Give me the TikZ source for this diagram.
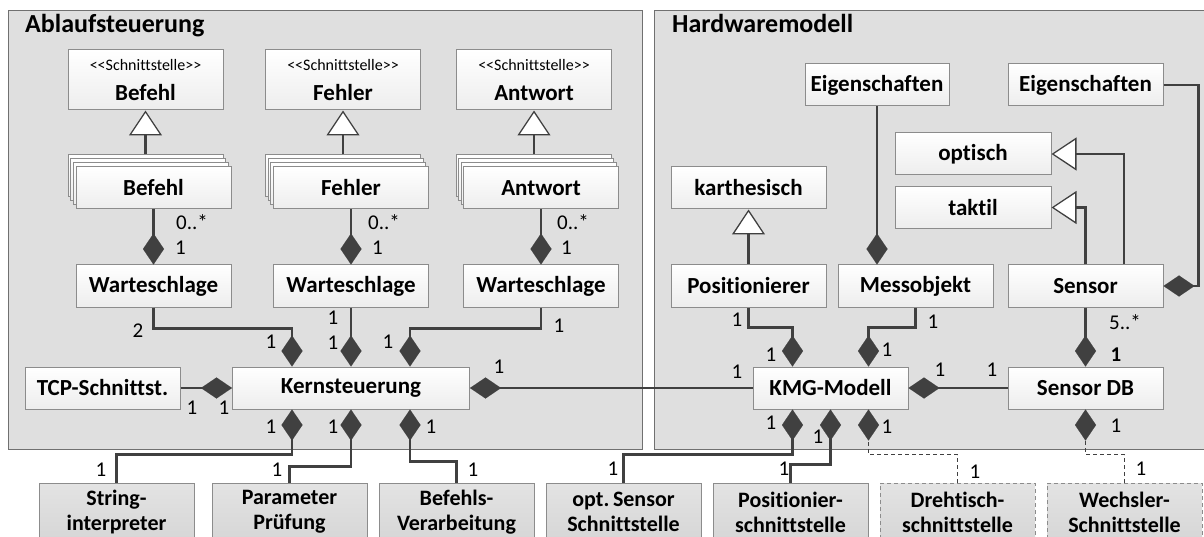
\documentclass[tikz,border=0pt]{standalone}
\usepackage{fontspec}
\setmainfont{Carlito}[Ligatures={TeX,NoCommon}]
\usetikzlibrary{arrows.meta}
\definecolor{lineC}{HTML}{404040}
\definecolor{panelC}{HTML}{DFDFDF}
\definecolor{panelB}{HTML}{707070}
\definecolor{boxB}{HTML}{8C8C8C}
% stereotype line inside interface boxes (angle brackets kept apart so they stay brackets)
\newcommand{\stereotxt}{\mdseries\fontsize{16}{30}\selectfont}
\newcommand{\ifacetag}{{\stereotxt{<}{<}Schnittstelle{>}{>}}}
\begin{document}
\begin{tikzpicture}[x=1pt,y=-1pt,
  panel/.style={draw=panelB, fill=panelC, line width=1pt},
  title/.style={anchor=base west, inner sep=0pt, font=\bfseries\fontsize{26}{30}\selectfont},
  cls/.style={draw=boxB, line width=1pt, top color=white, bottom color=gray!14,
    minimum width=155pt, minimum height=42pt, inner sep=0pt,
    font=\bfseries\fontsize{23}{27}\selectfont},
  iface/.style={cls, minimum height=60pt, align=center, font=\bfseries\fontsize{23}{30}\selectfont},
  ext/.style={draw=boxB, line width=1pt, top color=gray!22, bottom color=gray!32,
    minimum width=155pt, minimum height=58pt, inner sep=0pt, align=center,
    font=\bfseries\fontsize{22}{25}\selectfont},
  extopt/.style={ext, dash pattern=on 4pt off 3pt},
  conn/.style={draw=lineC, line width=2.6pt},
  comp/.style={conn, -{Diamond[length=31pt,width=21pt,line width=0.1pt]}},
  compopt/.style={draw=lineC, line width=1.8pt, dash pattern=on 4pt off 3pt,
    -{Diamond[length=31pt,width=21pt,line width=0.1pt]}},
  gen/.style={conn, -{Triangle[length=25pt,width=33pt,fill=white,line width=1.3pt]}},
  mult/.style={inner sep=0pt, font=\fontsize{21}{24}\selectfont},
  multw/.style={mult, anchor=west}
]
\useasboundingbox (0,0) rectangle (1204,537);

% the two packages
\draw[panel] (8.5,11) rectangle (642,449);
\draw[panel] (654,11) rectangle (1212,449);
\node[title] (tAbl) at (25,33) {Ablaufsteuerung};
\node[title] (tHw) at (672,33) {Hardwaremodell};

% ---- Ablaufsteuerung: interfaces
\node[iface] (sA) at (145.5,80) {\ifacetag\\Befehl};
\node[iface] (sB) at (343,80) {\ifacetag\\Fehler};
\node[iface] (sC) at (534,80) {\ifacetag\\Antwort};

% stacked implementations
\node[cls] (bA1) at (145.5,176) {};
\node[cls] (bA2) at (148.2,180) {};
\node[cls] (bA3) at (150.8,184) {};
\node[cls] (fA) at (153.5,188) {Befehl};
\node[cls] (bB1) at (343,176) {};
\node[cls] (bB2) at (345.7,180) {};
\node[cls] (bB3) at (348.3,184) {};
\node[cls] (fB) at (351,188) {Fehler};
\node[cls] (bC1) at (534,176) {};
\node[cls] (bC2) at (536.3,180) {};
\node[cls] (bC3) at (538.7,184) {};
\node[cls] (fC) at (541,188) {Antwort};

% queues and core
\node[cls] (wA) at (153.5,286) {Warteschlage};
\node[cls] (wB) at (351,286) {Warteschlage};
\node[cls] (wC) at (541,286) {Warteschlage};
\node[cls, minimum width=237pt] (kern) at (351,388) {Kernsteuerung};
\node[cls] (tcp) at (102.5,388) {TCP-Schnittst.};

% ---- Hardwaremodell
\node[cls, minimum width=144pt] (eig1) at (877,85) {Eigenschaften};
\node[cls] (eig2) at (1085.5,85) {Eigenschaften};
\node[cls, minimum width=156pt] (opt) at (973,154) {optisch};
\node[cls, minimum width=156pt] (tak) at (973,207.5) {taktil};
\node[cls] (kar) at (748.5,188) {karthesisch};
\node[cls] (pos) at (748.5,286) {Positionierer};
\node[cls] (mes) at (915.5,286) {Messobjekt};
\node[cls] (sen) at (1085.5,286) {Sensor};
\node[cls] (kmg) at (830.5,388) {KMG-Modell};
\node[cls] (sdb) at (1085.5,388) {Sensor DB};

% ---- external interfaces
\node[ext] (str) at (116.5,512) {String-\\interpreter};
\node[ext] (par) at (289.5,512) {Parameter\\Prüfung};
\node[ext] (bef) at (456.5,512) {Befehls-\\Verarbeitung};
\node[ext] (ops) at (623.5,512) {opt.\,Sensor\\Schnittstelle};
\node[ext] (psi) at (790.5,512) {Positionier-\\schnittstelle};
\node[extopt] (dre) at (957.5,512) {Drehtisch-\\schnittstelle};
\node[extopt] (wec) at (1124.5,512) {Wechsler-\\Schnittstelle};

% ---- generalisations
\draw[gen] (bA1.north) -- (sA.south);
\draw[gen] (bB1.north) -- (sB.south);
\draw[gen] (bC1.north) -- (sC.south);
\draw[gen] (pos) -- (kar);
\draw[gen] ([xshift=38.5pt]sen.north) |- (opt.east);
\draw[gen] (sen.north) |- (tak.east);

% ---- compositions
\draw[comp] (fA) -- (wA);
\draw[comp] (fB) -- (wB);
\draw[comp] (fC) -- (wC);
\draw[comp] (wA.south) -- ++(0,21) -| ([xshift=-59pt]kern.north);
\draw[comp] (wB) -- (kern);
\draw[comp] (wC.south) -- ++(0,21) -| ([xshift=59pt]kern.north);
\draw[comp] (tcp) -- (kern);
\draw[comp] (kmg) -- (kern);
\draw[comp] (str.north) -- ++(0,-28) -| ([xshift=-59pt]kern.south);
\draw[comp] (par.north) -- ++(0,-16) -| (kern.south);
\draw[comp] (bef.north) -- ++(0,-21) -| ([xshift=59pt]kern.south);

\draw[comp] (eig1.south) -- (eig1.south |- mes.north);
\draw[comp] (eig2.east) -- ++(35,0) |- (sen.east);
\draw[comp] (pos.south) -- ++(0,20) -| ([xshift=-38pt]kmg.north);
\draw[comp] (mes.south) -- ++(0,20) -| ([xshift=38pt]kmg.north);
\draw[comp] (sen) -- (sdb);
\draw[comp] (sdb) -- (kmg);
\draw[comp] (ops.north) -- ++(0,-28) -| ([xshift=-38pt]kmg.south);
\draw[comp] (psi.north) -- ++(0,-18) -| (kmg.south);
\draw[compopt] (dre.north) -- ++(0,-28) -| ([xshift=38pt]kmg.south);
\draw[compopt] (wec.north) -- ++(0,-28) -| (sdb.south);

% ---- multiplicities
\node[multw] (mA1) at (176,222) {0..*};
\node[multw] (mA2) at (175,248) {1};
\node[multw] (mB1) at (368,222) {0..*};
\node[multw] (mB2) at (372,248) {1};
\node[multw] (mC1) at (557,222) {0..*};
\node[multw] (mC2) at (561,248) {1};
\node[mult] (mW1) at (138,331) {2};
\node[mult] (mW2) at (333,318) {1};
\node[mult] (mW3) at (559,326) {1};
\node[mult] (mK1) at (271,342) {1};
\node[mult] (mK2) at (333,343) {1};
\node[mult] (mK3) at (388,342) {1};
\node[mult] (mT1) at (192,408) {1};
\node[mult] (mT2) at (224,408) {1};
\node[mult] (mK4) at (271,427) {1};
\node[mult] (mK5) at (333,427) {1};
\node[mult] (mK6) at (431,427) {1};
\node[mult] (mE1) at (101,470) {1};
\node[mult] (mE2) at (277,470) {1};
\node[mult] (mE3) at (473,470) {1};
\node[mult] (mE4) at (613,469) {1};
\node[mult] (mE5) at (784,469) {1};
\node[mult] (mE6) at (975,472) {1};
\node[mult] (mE7) at (1141,469) {1};
\node[mult] (mX1) at (499,367) {1};
\node[mult] (mX2) at (737,372) {1};
\node[mult] (mP1) at (737,320) {1};
\node[mult] (mP2) at (933,322) {1};
\node[mult] (mP3) at (771,355) {1};
\node[mult] (mP4) at (887,350) {1};
\node[mult] (mS1) at (940,370) {1};
\node[mult] (mS2) at (992,370) {1};
\node[mult] (mB3) at (771,423) {1};
\node[mult] (mB4) at (818,437) {1};
\node[mult] (mB5) at (887,427) {1};
\node[mult] (mD1) at (1116,426) {1};
\node[multw] (mS3) at (1109,322) {5..*};
\node[mult, font=\bfseries\fontsize{21}{24}\selectfont] (mS4) at (1116,355) {1};
\end{tikzpicture}
\end{document}
